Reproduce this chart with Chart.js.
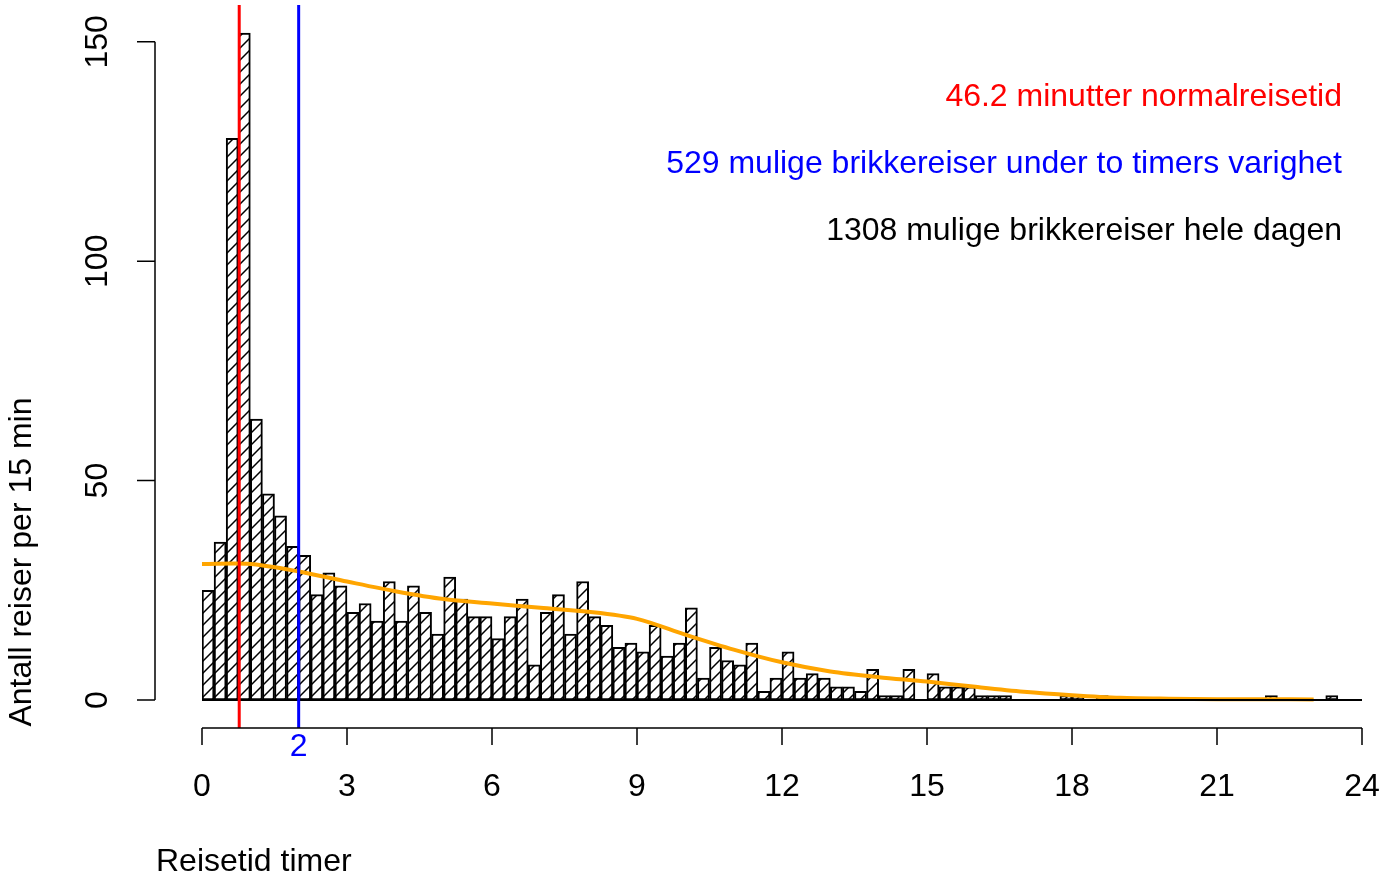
<!DOCTYPE html>
<html>
<head>
<meta charset="utf-8">
<script src="https://cdn.jsdelivr.net/npm/chart.js@4"></script>
<style>
  body { margin: 0; background: #fff; }
</style>
</head>
<body>
<canvas id="reiseChart" width="1394" height="877"></canvas>
<script>
// antall reiser per 15-minutters intervall, 0 til 24 timer (96 intervaller)
const counts = [
    25, 36, 128, 152, 64, 47, 42, 35,
    33, 24, 29, 26, 20, 22, 18, 27, 18, 26, 20, 15, 28, 23, 19, 19,
    14, 19, 23, 8, 20, 24, 15, 27, 19, 17, 12, 13, 11, 17, 10, 13,
    21, 5, 12, 9, 8, 13, 2, 5, 11, 5, 6, 5, 3, 3, 2, 7,
    1, 1, 7, 0, 6, 3, 3, 3, 1, 1, 1,
    0, 0, 0, 0, 1, 1, 0, 1,
    0, 0, 0, 0, 0, 0, 0, 0, 0, 0, 0, 0, 0,
    1, 0, 0, 0, 0, 1, 0, 0
];
const binHours = 0.25;

// glattet kurve (oransje)
const smoothX = [0, 1, 2, 3, 4, 5, 6, 7, 8, 9, 10, 11, 12, 13, 14, 15, 16, 17, 18, 19, 20, 21, 22, 23];
const smoothY = [31, 31, 29.3, 27, 24.8, 23, 22, 21, 20.1, 18.5, 14.9, 11.5, 8.6, 6.5, 5.2, 4.2, 3.0, 1.9, 1.1, 0.5, 0.3, 0.2, 0.2, 0.1];

const normalTid = 46.2 / 60;   // timer
const grenseTid = 2;

const xTicks = [0, 3, 6, 9, 12, 15, 18, 21, 24];
const yTicks = [0, 50, 100, 150];

const notes = [
    { text: "46.2 minutter normalreisetid", color: "#ff0000" },
    { text: "529 mulige brikkereiser under to timers varighet", color: "#0000ff" },
    { text: "1308 mulige brikkereiser hele dagen", color: "#000000" }
];

const FONT = "'Liberation Sans', Arial, sans-serif";

function hatch() {
    const s = 12;
    const c = document.createElement("canvas");
    c.width = s; c.height = s;
    const g = c.getContext("2d");
    g.fillStyle = "#fff";
    g.fillRect(0, 0, s, s);
    g.strokeStyle = "#000";
    g.lineWidth = 1.5;
    g.beginPath();
    g.moveTo(-1, s + 1); g.lineTo(s + 1, -1);
    g.moveTo(-1, 1); g.lineTo(1, -1);
    g.moveTo(s - 1, s + 1); g.lineTo(s + 1, s - 1);
    g.stroke();
    return g.createPattern(c, "repeat");
}

const axesPlugin = {
    id: "rAxes",
    afterDatasetsDraw(chart) {
        const ctx = chart.ctx;
        const x = chart.scales.x, y = chart.scales.y;
        const area = chart.chartArea;
        const y0 = y.getPixelForValue(0);

        ctx.save();
        // grunnlinje for histogrammet
        ctx.strokeStyle = "#000";
        ctx.lineWidth = 2;
        ctx.beginPath();
        ctx.moveTo(x.getPixelForValue(0), y0);
        ctx.lineTo(x.getPixelForValue(24), y0);
        ctx.stroke();

        // loddrette linjer
        [[normalTid, "#ff0000"], [grenseTid, "#0000ff"]].forEach(([v, col]) => {
            const px = x.getPixelForValue(v);
            ctx.strokeStyle = col;
            ctx.lineWidth = 3;
            ctx.beginPath();
            ctx.moveTo(px, area.top);
            ctx.lineTo(px, area.bottom);
            ctx.stroke();
        });

        // x-akse
        const ax = area.bottom;
        ctx.strokeStyle = "#000";
        ctx.lineWidth = 1.5;
        ctx.beginPath();
        ctx.moveTo(x.getPixelForValue(xTicks[0]), ax);
        ctx.lineTo(x.getPixelForValue(xTicks[xTicks.length - 1]), ax);
        xTicks.forEach(t => {
            const px = x.getPixelForValue(t);
            ctx.moveTo(px, ax);
            ctx.lineTo(px, ax + 17);
        });
        ctx.stroke();

        ctx.font = "32px " + FONT;
        ctx.fillStyle = "#000";
        ctx.textAlign = "center";
        ctx.textBaseline = "middle";
        xTicks.forEach(t => ctx.fillText(String(t), x.getPixelForValue(t), 787));
        ctx.fillStyle = "#0000ff";
        ctx.fillText(String(grenseTid), x.getPixelForValue(grenseTid), 747);

        // y-akse
        const axX = 155;
        ctx.beginPath();
        ctx.moveTo(axX, y.getPixelForValue(yTicks[0]));
        ctx.lineTo(axX, y.getPixelForValue(yTicks[yTicks.length - 1]));
        yTicks.forEach(t => {
            const py = y.getPixelForValue(t);
            ctx.moveTo(axX, py);
            ctx.lineTo(axX - 18, py);
        });
        ctx.stroke();

        ctx.fillStyle = "#000";
        yTicks.forEach(t => {
            ctx.save();
            ctx.translate(98, y.getPixelForValue(t));
            ctx.rotate(-Math.PI / 2);
            ctx.fillText(String(t), 0, 0);
            ctx.restore();
        });

        // aksetitler
        ctx.save();
        ctx.translate(22, 562);
        ctx.rotate(-Math.PI / 2);
        ctx.fillText("Antall reiser per 15 min", 0, 0);
        ctx.restore();

        ctx.textAlign = "left";
        ctx.fillText("Reisetid timer", 156, 862);

        // tekster oppe til høyre
        ctx.textAlign = "right";
        notes.forEach((n, i) => {
            ctx.fillStyle = n.color;
            ctx.fillText(n.text, 1342, 97 + i * 67);
        });
        ctx.restore();
    }
};

const barData = counts.map((c, i) => ({ x: i * binHours + binHours / 2, y: c }));
const lineData = smoothX.map((v, i) => ({ x: v, y: smoothY[i] }));

new Chart(document.getElementById("reiseChart"), {
    type: "bar",
    data: {
        datasets: [{
            type: "bar",
            data: barData,
            backgroundColor: hatch(),
            borderColor: "#000",
            borderWidth: 2,
            borderSkipped: false,
            barPercentage: 1,
            categoryPercentage: 1,
            order: 1
        }, {
            type: "line",
            data: lineData,
            borderColor: "#ffa500",
            borderWidth: 4,
            pointRadius: 0,
            tension: 0.3,
            fill: false,
            order: 0
        }]
    },
    options: {
        responsive: false,
        animation: false,
        devicePixelRatio: 1,
        layout: { padding: { left: 202, right: 32, top: 5, bottom: 149 } },
        plugins: { legend: { display: false }, tooltip: { enabled: false } },
        scales: {
            x: { type: "linear", display: false, min: 0, max: 24, offset: false },
            y: { display: false, min: -6.38, max: 158.4 }
        }
    },
    plugins: [axesPlugin]
});
</script>
</body>
</html>
